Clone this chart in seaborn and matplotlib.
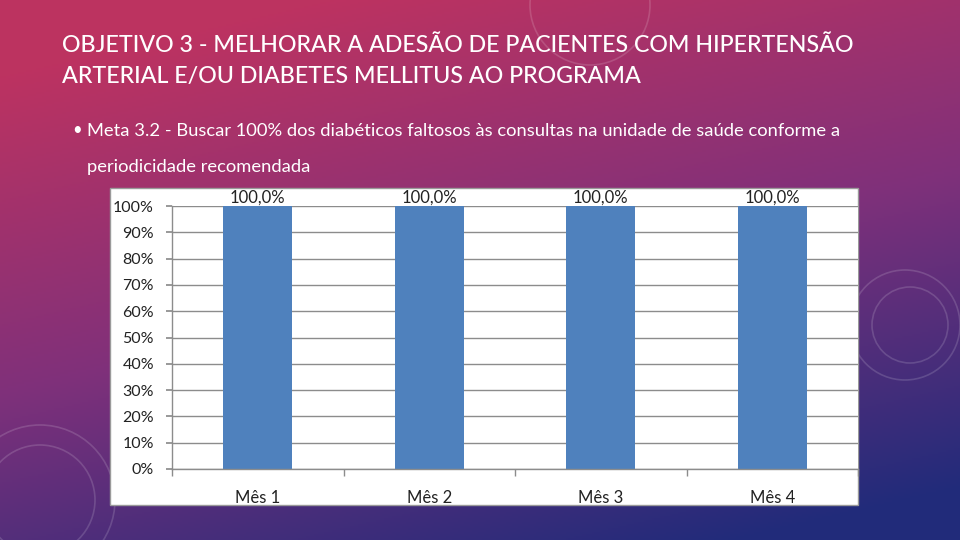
import numpy as np
import pandas as pd
import matplotlib
matplotlib.use("Agg")
import matplotlib.pyplot as plt
from matplotlib.patches import Rectangle, Circle
from matplotlib.ticker import PercentFormatter
import seaborn as sns

# chart data
months = ["Mês 1", "Mês 2", "Mês 3", "Mês 4"]
values = [1.0, 1.0, 1.0, 1.0]
labels = ["100,0%", "100,0%", "100,0%", "100,0%"]

title_lines = ["OBJETIVO 3 - MELHORAR A ADESÃO DE PACIENTES COM HIPERTENSÃO",
               "ARTERIAL E/OU DIABETES MELLITUS AO PROGRAMA"]
bullet_lines = ["Meta 3.2 - Buscar 100% dos diabéticos faltosos às consultas na unidade de saúde conforme a",
                "periodicidade recomendada"]

sns.set_theme(style="white")
plt.rcParams["font.family"] = ["Lato", "DejaVu Sans"]

W, H = 960, 540
fig = plt.figure(figsize=(W / 100, H / 100), dpi=100)

# slide background: magenta to dark blue gradient
bg = fig.add_axes([0, 0, 1, 1])
yy, xx = np.mgrid[0:1:270j, 0:1:480j]
t = np.clip(0.85 * yy + 0.35 * xx - 0.12, 0, 1)[..., None]
top = np.array([0.74, 0.20, 0.38])
mid = np.array([0.50, 0.19, 0.48])
bot = np.array([0.13, 0.17, 0.48])
img = np.where(t < 0.5, top * (1 - 2 * t) + mid * 2 * t, mid * (2 - 2 * t) + bot * (2 * t - 1))
bg.imshow(img, extent=[0, W, H, 0], aspect="auto")
bg.set_xlim(0, W)
bg.set_ylim(H, 0)
bg.axis("off")

# faint decorative rings
for cx, cy, r in [(910, 325, 38), (905, 325, 55), (40, 500, 55), (40, 500, 75), (590, 5, 60)]:
    bg.add_patch(Circle((cx, cy), r, fill=False, ec="white", lw=1.2, alpha=0.15))


def fit_width(txt, target):
    # shrink/grow a text so it spans about `target` pixels
    r = fig.canvas.get_renderer()
    w = txt.get_window_extent(r).width
    txt.set_fontsize(txt.get_fontsize() * target / w)


# title and bullet text
t1 = bg.text(62, 45, title_lines[0], color="white", fontsize=18, va="center", ha="left",
             fontweight="medium")
fit_width(t1, 796)
bg.text(62, 76, title_lines[1], color="white", fontsize=t1.get_fontsize(), va="center",
        ha="left", fontweight="medium")
bg.text(72, 130, "•", color="white", fontsize=12, va="center", ha="left")
b1 = bg.text(87, 131, bullet_lines[0], color="white", fontsize=12, va="center", ha="left")
fit_width(b1, 750)
bg.text(87, 167, bullet_lines[1], color="white", fontsize=b1.get_fontsize(), va="center", ha="left")

# white chart box
bg.add_patch(Rectangle((110, 188), 748, 317, fc="white", ec="#9a9a9a", lw=1))

# bar chart
left, right, ytop, ybot = 172, 858, 206, 469
ax = fig.add_axes([left / W, 1 - ybot / H, (right - left) / W, (ybot - ytop) / H])
df = pd.DataFrame({"mes": months, "valor": values})
sns.barplot(data=df, x="mes", y="valor", color="#4F81BD", saturation=1, width=0.4,
            linewidth=0, ax=ax)
ax.set_facecolor("white")
ax.set_ylim(0, 1)
ax.set_xlim(-0.5, len(months) - 0.5)
ax.set_yticks(np.arange(0, 1.01, 0.1))
ax.yaxis.set_major_formatter(PercentFormatter(1.0, decimals=0))
ax.yaxis.grid(True, color="#8c8c8c", lw=1)
ax.set_axisbelow(True)
ax.set_xlabel("")
ax.set_ylabel("")
for s in ["top", "right"]:
    ax.spines[s].set_visible(False)
for s in ["left", "bottom"]:
    ax.spines[s].set_color("#8c8c8c")
    ax.spines[s].set_linewidth(1)
ax.tick_params(axis="y", left=True, length=4, color="#8c8c8c", labelsize=11.5,
               labelcolor="#222222", pad=9)
ax.tick_params(axis="x", bottom=False, labelsize=12, labelcolor="#222222", pad=9)
ax.set_xticks(range(len(months)))
ax.set_xticklabels(months)
ax.set_xticks(np.arange(-0.5, len(months), 1), minor=True)
ax.tick_params(axis="x", which="minor", bottom=True, length=5, color="#8c8c8c")
for i, lab in enumerate(labels):
    ax.text(i, values[i], lab, ha="center", va="bottom", fontsize=12, color="#222222")

fig.savefig("out.png", dpi=100)
